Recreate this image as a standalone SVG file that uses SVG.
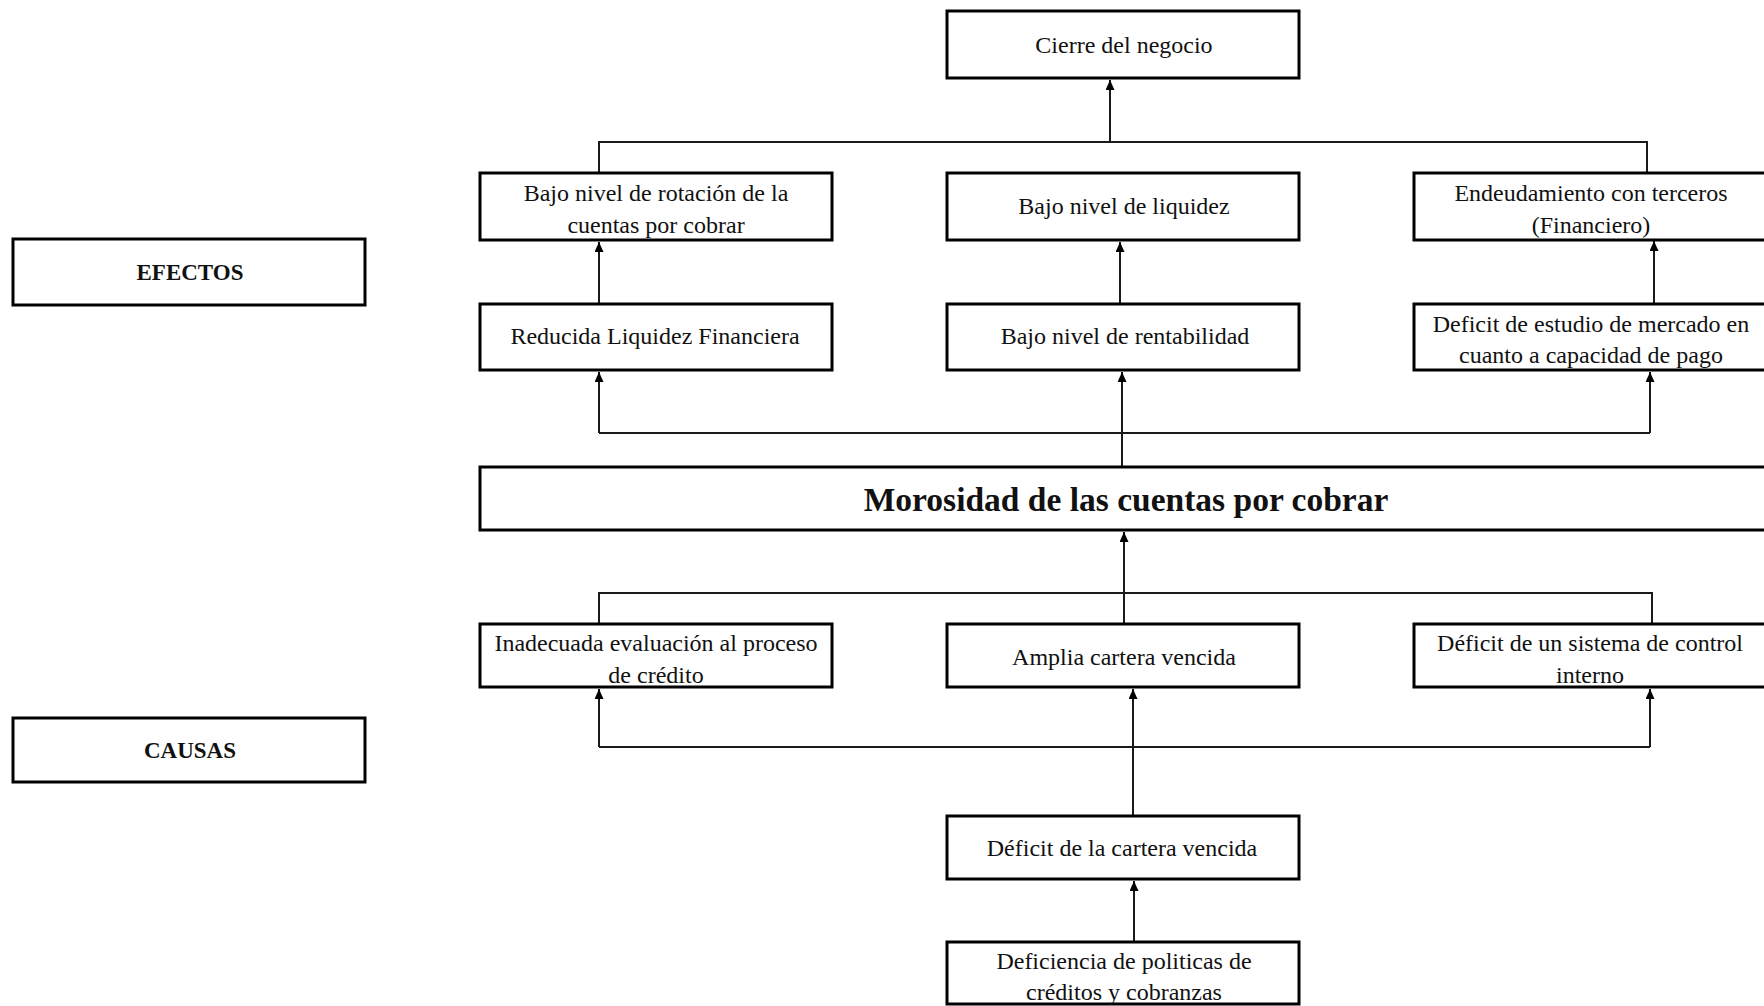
<svg xmlns="http://www.w3.org/2000/svg" width="1764" height="1006" viewBox="0 0 1764 1006">
<style>
.box{fill:#fff;stroke:#000;stroke-width:3}
.t{font-family:"Liberation Serif","Times New Roman",serif;font-size:24px;fill:#111;text-anchor:middle}
.b{font-weight:bold;font-size:23px}
.c{fill:none;stroke:#1a1a1a;stroke-width:2}
</style>
<defs>
<marker id="ar" markerUnits="userSpaceOnUse" markerWidth="10" markerHeight="9" refX="10" refY="4.5" orient="auto">
<path d="M0,0 L10,4.5 L0,9 z" fill="#000"/>
</marker>
</defs>
<rect width="1764" height="1006" fill="#fff"/>
<g id="connectors">
<path class="c" d="M599,173 V142 H1647 V173"/>
<path class="c" d="M1110,142 V80" marker-end="url(#ar)"/>
<path class="c" d="M599,304 V242" marker-end="url(#ar)"/>
<path class="c" d="M1120,304 V242" marker-end="url(#ar)"/>
<path class="c" d="M1654,304 V241" marker-end="url(#ar)"/>
<path class="c" d="M599,433 H1650"/>
<path class="c" d="M599,433 V372" marker-end="url(#ar)"/>
<path class="c" d="M1650,433 V372" marker-end="url(#ar)"/>
<path class="c" d="M1122,466 V372" marker-end="url(#ar)"/>
<path class="c" d="M599,623 V593 H1652 V623"/>
<path class="c" d="M1124,623 V532" marker-end="url(#ar)"/>
<path class="c" d="M599,747 H1650"/>
<path class="c" d="M599,747 V689" marker-end="url(#ar)"/>
<path class="c" d="M1650,747 V689" marker-end="url(#ar)"/>
<path class="c" d="M1133,815 V689" marker-end="url(#ar)"/>
<path class="c" d="M1134,941 V881" marker-end="url(#ar)"/>
</g>
<g id="cierre">
<rect class="box" x="947" y="11" width="352" height="67"/>
<text class="t" x="1124" y="53">Cierre del negocio</text>
</g>
<g id="efectos-label">
<rect class="box" x="13" y="239" width="352" height="66"/>
<text class="t b" x="190" y="280">EFECTOS</text>
</g>
<g id="bajo-rotacion">
<rect class="box" x="480" y="173" width="352" height="67"/>
<text class="t" x="656" y="201">Bajo nivel de rotación de la</text>
<text class="t" x="656" y="233">cuentas por cobrar</text>
</g>
<g id="bajo-liquidez">
<rect class="box" x="947" y="173" width="352" height="67"/>
<text class="t" x="1124" y="214">Bajo nivel de liquidez</text>
</g>
<g id="endeudamiento">
<rect class="box" x="1414" y="173" width="352" height="67"/>
<text class="t" x="1591" y="201">Endeudamiento con terceros</text>
<text class="t" x="1591" y="233">(Financiero)</text>
</g>
<g id="reducida-liquidez">
<rect class="box" x="480" y="304" width="352" height="66"/>
<text class="t" x="655" y="344">Reducida Liquidez Financiera</text>
</g>
<g id="bajo-rentabilidad">
<rect class="box" x="947" y="304" width="352" height="66"/>
<text class="t" x="1125" y="344">Bajo nivel de rentabilidad</text>
</g>
<g id="deficit-estudio">
<rect class="box" x="1414" y="304" width="352" height="66"/>
<text class="t" x="1591" y="332">Deficit de estudio de mercado en</text>
<text class="t" x="1591" y="363">cuanto a capacidad de pago</text>
</g>
<g id="morosidad">
<rect class="box" x="480" y="467" width="1286" height="63"/>
<text class="t b" x="1126" y="511" style="font-size:33.5px">Morosidad de las cuentas por cobrar</text>
</g>
<g id="inadecuada">
<rect class="box" x="480" y="624" width="352" height="63"/>
<text class="t" x="656" y="651">Inadecuada evaluación al proceso</text>
<text class="t" x="656" y="683">de crédito</text>
</g>
<g id="amplia-cartera">
<rect class="box" x="947" y="624" width="352" height="63"/>
<text class="t" x="1124" y="665">Amplia cartera vencida</text>
</g>
<g id="deficit-control">
<rect class="box" x="1414" y="624" width="352" height="63"/>
<text class="t" x="1590" y="651">Déficit de un sistema de control</text>
<text class="t" x="1590" y="683">interno</text>
</g>
<g id="causas-label">
<rect class="box" x="13" y="718" width="352" height="64"/>
<text class="t b" x="190" y="758">CAUSAS</text>
</g>
<g id="deficit-cartera">
<rect class="box" x="947" y="816" width="352" height="63"/>
<text class="t" x="1122" y="856">Déficit de la cartera vencida</text>
</g>
<g id="deficiencia-politicas">
<rect class="box" x="947" y="942" width="352" height="62"/>
<text class="t" x="1124" y="969">Deficiencia de politicas de</text>
<text class="t" x="1124" y="1000">créditos y cobranzas</text>
</g>
</svg>
